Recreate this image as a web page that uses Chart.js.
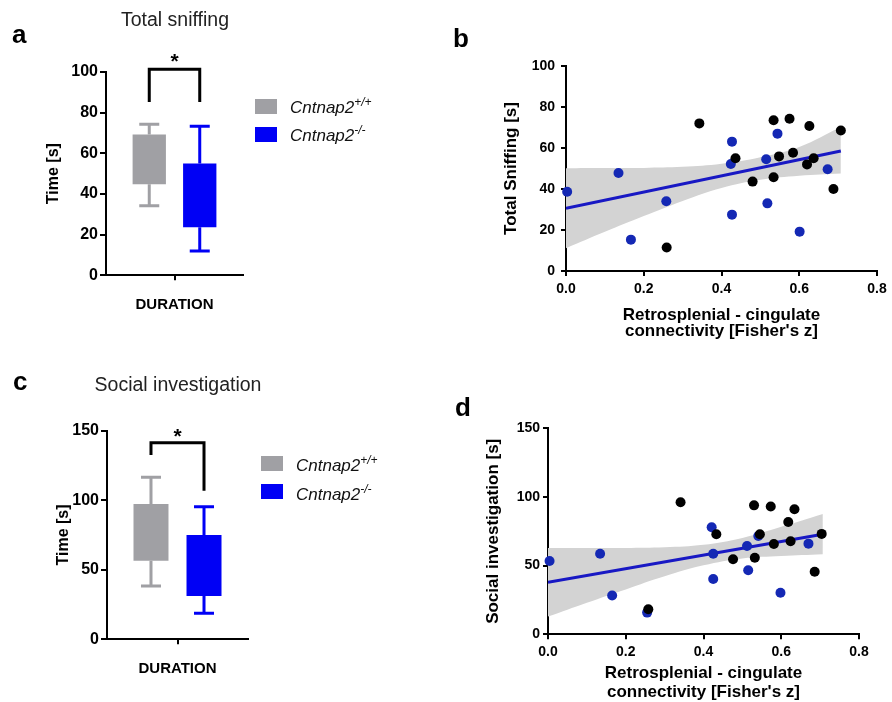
<!DOCTYPE html>
<html>
<head>
<meta charset="utf-8">
<script src="https://cdn.jsdelivr.net/npm/chart.js@4.4.1/dist/chart.umd.min.js"></script>
<style>
  body { margin: 0; background: #fff; }
  #fig { position: relative; width: 892px; height: 702px; background: #fff; overflow: hidden; font-family: "Liberation Sans", Arial, sans-serif; }
  canvas { position: absolute; }
  .lbl { position: absolute; font-weight: bold; font-size: 26px; line-height: 26px; color: #000; }
  .ttl { position: absolute; font-size: 19.5px; line-height: 19.5px; color: #222; width: 300px; text-align: center; }
  .sw { position: absolute; width: 22px; height: 15px; }
  .lg { position: absolute; font-style: italic; font-size: 17px; line-height: 17px; color: #111; white-space: nowrap; }
  .lg span { font-size: 12px; position: relative; top: -7px; }
</style>
</head>
<body>
<div id="fig">
  <canvas id="chartA" width="440" height="345" style="left:0;top:0"></canvas>
  <canvas id="chartB" width="452" height="350" style="left:440px;top:0"></canvas>
  <canvas id="chartC" width="440" height="352" style="left:0;top:350px"></canvas>
  <canvas id="chartD" width="452" height="352" style="left:440px;top:350px"></canvas>

  <div class="lbl" style="left:12px;top:21px">a</div>
  <div class="lbl" style="left:453px;top:25px">b</div>
  <div class="lbl" style="left:13px;top:368px">c</div>
  <div class="lbl" style="left:455px;top:394px">d</div>

  <div class="ttl" style="left:25px;top:10px">Total sniffing</div>
  <div class="ttl" style="left:28px;top:375px">Social investigation</div>

  <div class="sw" style="left:255px;top:99px;background:#a0a0a4"></div>
  <div class="lg" style="left:290px;top:99px">Cntnap2<span>+/+</span></div>
  <div class="sw" style="left:255px;top:127px;background:#0000f5"></div>
  <div class="lg" style="left:290px;top:127px">Cntnap2<span>-/-</span></div>

  <div class="sw" style="left:261px;top:456px;background:#a0a0a4"></div>
  <div class="lg" style="left:296px;top:457px">Cntnap2<span>+/+</span></div>
  <div class="sw" style="left:261px;top:484px;background:#0000f5"></div>
  <div class="lg" style="left:296px;top:486px">Cntnap2<span>-/-</span></div>
</div>
<script>
// box plots (a, c): [low, high] of box, whiskers, bracket [top, left leg end, right leg end]
const groups = ['DURATION'];
const wtSniffBox = [44.8, 69.3];
const wtSniffWhisker = [34.2, 74.3];
const koSniffBox = [23.6, 55.0];
const koSniffWhisker = [11.9, 73.3];
const sniffBracket = [101.3, 85.3, 85.3];

const wtSocialBox = [56.5, 97.3];
const wtSocialWhisker = [38.3, 116.5];
const koSocialBox = [31.2, 75.0];
const koSocialWhisker = [18.7, 95.4];
const socialBracket = [141.4, 132.5, 106.9];

// scatter (b): total sniffing vs connectivity
const wtSniffX = [0.343, 0.259, 0.436, 0.480, 0.534, 0.575, 0.534, 0.548, 0.584, 0.626, 0.620, 0.637, 0.688, 0.707];
const wtSniffY = [72.0, 11.5, 55.0, 43.6, 73.5, 74.3, 45.7, 55.9, 57.7, 70.7, 52.0, 55.0, 40.0, 68.5];
const koSniffX = [0.003, 0.135, 0.167, 0.258, 0.427, 0.424, 0.427, 0.544, 0.515, 0.518, 0.601, 0.673];
const koSniffY = [38.7, 47.8, 15.3, 34.0, 63.1, 52.2, 27.5, 67.0, 54.5, 33.0, 19.2, 49.6];

// scatter (d): social investigation vs connectivity
const wtSocialX = [0.341, 0.258, 0.433, 0.476, 0.530, 0.573, 0.532, 0.545, 0.581, 0.634, 0.618, 0.624, 0.686, 0.704];
const wtSocialY = [96.1, 18.2, 72.8, 54.6, 93.9, 93.0, 55.8, 72.8, 65.8, 91.0, 81.8, 67.7, 45.6, 73.1];
const koSocialX = [0.004, 0.134, 0.165, 0.255, 0.421, 0.425, 0.425, 0.541, 0.512, 0.515, 0.598, 0.670];
const koSocialY = [53.4, 58.7, 28.2, 15.8, 77.9, 58.7, 40.3, 71.6, 64.3, 46.6, 30.3, 66.0];

// regression lines and 95% bands
const fitX = [0, 0.707];
const sniffFitY = [30.6, 58.5];
const socialFitY = [37.9, 72.9];
const bandX = [0, 0.1, 0.2, 0.3, 0.4, 0.5, 0.6, 0.707];
const sniffBandHi = [50.1, 50.2, 50.3, 50.8, 52.3, 55.5, 60.5, 70.2];
const sniffBandLo = [11.1, 19.1, 26.8, 34.2, 40.5, 44.5, 46.5, 47.6];
const socialBandHi = [62.9, 62.8, 62.9, 63.4, 65.2, 70.2, 78.3, 87.6];
const socialBandLo = [12.9, 23.0, 32.7, 42.2, 50.2, 55.2, 57.0, 58.3];

const fam = '"Liberation Sans", Arial, sans-serif';
const grey = '#a0a0a4';
const blue = '#0000f5';
const dotBlue = '#1428b4';
const lineBlue = '#1818c4';
const band = '#d3d3d3';

const pts = (xs, ys) => xs.map((x, i) => ({ x: x, y: ys[i] }));

const boxExtras = {
  id: 'boxExtras',
  afterDatasetsDraw(chart, args, opts) {
    const ctx = chart.ctx;
    const y = chart.scales.y;
    const xs = [];
    ctx.save();
    ctx.lineWidth = 3;
    chart.data.datasets.forEach((ds, i) => {
      const bar = chart.getDatasetMeta(i).data[0];
      const bx = bar.x;
      xs.push(bx);
      ctx.strokeStyle = ds.backgroundColor;
      ctx.beginPath();
      ctx.moveTo(bx, y.getPixelForValue(ds.data[0][0]));
      ctx.lineTo(bx, y.getPixelForValue(ds.whisker[0]));
      ctx.moveTo(bx - 10, y.getPixelForValue(ds.whisker[0]));
      ctx.lineTo(bx + 10, y.getPixelForValue(ds.whisker[0]));
      ctx.moveTo(bx, y.getPixelForValue(ds.data[0][1]));
      ctx.lineTo(bx, y.getPixelForValue(ds.whisker[1]));
      ctx.moveTo(bx - 10, y.getPixelForValue(ds.whisker[1]));
      ctx.lineTo(bx + 10, y.getPixelForValue(ds.whisker[1]));
      ctx.stroke();
    });
    const b = opts.bracket;
    const top = y.getPixelForValue(b[0]);
    ctx.strokeStyle = '#000';
    ctx.beginPath();
    ctx.moveTo(xs[0], y.getPixelForValue(b[1]));
    ctx.lineTo(xs[0], top);
    ctx.lineTo(xs[1], top);
    ctx.lineTo(xs[1], y.getPixelForValue(b[2]));
    ctx.stroke();
    ctx.fillStyle = '#000';
    ctx.font = 'bold 21px ' + fam;
    ctx.textAlign = 'center';
    ctx.textBaseline = 'alphabetic';
    ctx.fillText('*', (xs[0] + xs[1]) / 2, top - opts.starGap + 12);
    ctx.restore();
  }
};

function boxChart(id, g) {
  return new Chart(document.getElementById(id), {
    type: 'bar',
    data: {
      labels: groups,
      datasets: [
        { label: 'Cntnap2+/+', data: [g.wtBox], whisker: g.wtWhisker, backgroundColor: grey,
          barPercentage: 0.66, categoryPercentage: g.catPct },
        { label: 'Cntnap2-/-', data: [g.koBox], whisker: g.koWhisker, backgroundColor: blue,
          barPercentage: 0.66, categoryPercentage: g.catPct }
      ]
    },
    options: {
      responsive: false,
      animation: false,
      layout: { padding: g.pad },
      plugins: {
        legend: { display: false },
        tooltip: { enabled: false },
        boxExtras: { bracket: g.bracket, starGap: g.starGap }
      },
      scales: {
        x: {
          grid: { offset: false, drawOnChartArea: false, color: '#000', lineWidth: 2, tickLength: 5 },
          border: { color: '#000', width: 2 },
          ticks: { color: '#000', padding: 16, font: { family: fam, size: 15, weight: 'bold' } },
          afterFit: s => { s.height = g.xHeight; }
        },
        y: {
          min: 0, max: g.yMax,
          ticks: { stepSize: g.yStep, color: '#000', padding: 2, font: { family: fam, size: 16, weight: 'bold' } },
          grid: { drawOnChartArea: false, color: '#000', lineWidth: 2, tickLength: 6 },
          border: { color: '#000', width: 2 },
          title: { display: true, text: 'Time [s]', color: '#000', padding: { top: g.titlePad },
                   font: { family: fam, size: 16, weight: 'bold' } },
          afterFit: s => { s.width = g.yWidth; }
        }
      }
    },
    plugins: [boxExtras]
  });
}

function scatterChart(id, g) {
  return new Chart(document.getElementById(id), {
    type: 'scatter',
    data: {
      datasets: [
        { data: pts(g.wtX, g.wtY), backgroundColor: '#000', pointRadius: 5, pointBorderWidth: 0, clip: false, order: 0 },
        { data: pts(g.koX, g.koY), backgroundColor: dotBlue, pointRadius: 5, pointBorderWidth: 0, clip: false, order: 1 },
        { type: 'line', data: pts(fitX, g.fitY), borderColor: lineBlue, borderWidth: 3, pointRadius: 0, fill: false, order: 2 },
        { type: 'line', data: pts(bandX, g.hi), borderColor: 'rgba(0,0,0,0)', borderWidth: 0, pointRadius: 0,
          tension: 0.4, fill: '+1', backgroundColor: band, order: 3 },
        { type: 'line', data: pts(bandX, g.lo), borderColor: 'rgba(0,0,0,0)', borderWidth: 0, pointRadius: 0,
          tension: 0.4, fill: false, order: 4 }
      ]
    },
    options: {
      responsive: false,
      animation: false,
      layout: { padding: g.pad },
      plugins: { legend: { display: false }, tooltip: { enabled: false } },
      scales: {
        x: {
          type: 'linear', min: 0, max: 0.8,
          ticks: { stepSize: 0.2, color: '#000', padding: g.xTickPad, callback: v => v.toFixed(1),
                   font: { family: fam, size: 14, weight: 'bold' } },
          grid: { drawOnChartArea: false, color: '#000', lineWidth: 2, tickLength: 5 },
          border: { color: '#000', width: 2 },
          title: { display: true, text: ['Retrosplenial - cingulate', "connectivity [Fisher's z]"], color: '#000',
                   padding: 0, font: { family: fam, size: 17, weight: 'bold', lineHeight: g.xTitleLh } },
          afterFit: s => { s.height = g.xHeight; }
        },
        y: {
          min: 0, max: g.yMax,
          ticks: { stepSize: g.yStep, color: '#000', padding: g.yTickPad, font: { family: fam, size: 14, weight: 'bold' } },
          grid: { drawOnChartArea: false, color: '#000', lineWidth: 2, tickLength: 5 },
          border: { color: '#000', width: 2 },
          title: { display: true, text: g.yTitle, color: '#000', padding: { top: g.titlePad },
                   font: { family: fam, size: 17, weight: 'bold' } },
          afterFit: s => { s.width = g.yWidth; }
        }
      }
    }
  });
}

boxChart('chartA', {
  wtBox: wtSniffBox, koBox: koSniffBox, wtWhisker: wtSniffWhisker, koWhisker: koSniffWhisker,
  bracket: sniffBracket, yMax: 100, yStep: 20, catPct: 0.737, starGap: 13,
  pad: { left: 0, top: 72, right: 197, bottom: 24.7 }, xHeight: 45, yWidth: 106, titlePad: 44
});

boxChart('chartC', {
  wtBox: wtSocialBox, koBox: koSocialBox, wtWhisker: wtSocialWhisker, koWhisker: koSocialWhisker,
  bracket: socialBracket, yMax: 150, yStep: 50, catPct: 0.752, starGap: 12,
  pad: { left: 0, top: 80.7, right: 192, bottom: 17.7 }, xHeight: 45, yWidth: 107, titlePad: 54.4
});

scatterChart('chartB', {
  wtX: wtSniffX, wtY: wtSniffY, koX: koSniffX, koY: koSniffY,
  fitY: sniffFitY, hi: sniffBandHi, lo: sniffBandLo,
  yMax: 100, yStep: 20, yTitle: 'Total Sniffing [s]',
  pad: { left: 0, top: 66, right: 15, bottom: 10.25 }, xHeight: 68.75, yWidth: 126,
  titlePad: 61.5, xTickPad: 5, yTickPad: 6, xTitleLh: 0.97
});

scatterChart('chartD', {
  wtX: wtSocialX, wtY: wtSocialY, koX: koSocialX, koY: koSocialY,
  fitY: socialFitY, hi: socialBandHi, lo: socialBandLo,
  yMax: 150, yStep: 50, yTitle: 'Social investigation [s]',
  pad: { left: 0, top: 78.3, right: 33, bottom: 0 }, xHeight: 67.7, yWidth: 108,
  titlePad: 42.8, xTickPad: 4, yTickPad: 3, xTitleLh: 1.14
});
</script>
</body>
</html>
